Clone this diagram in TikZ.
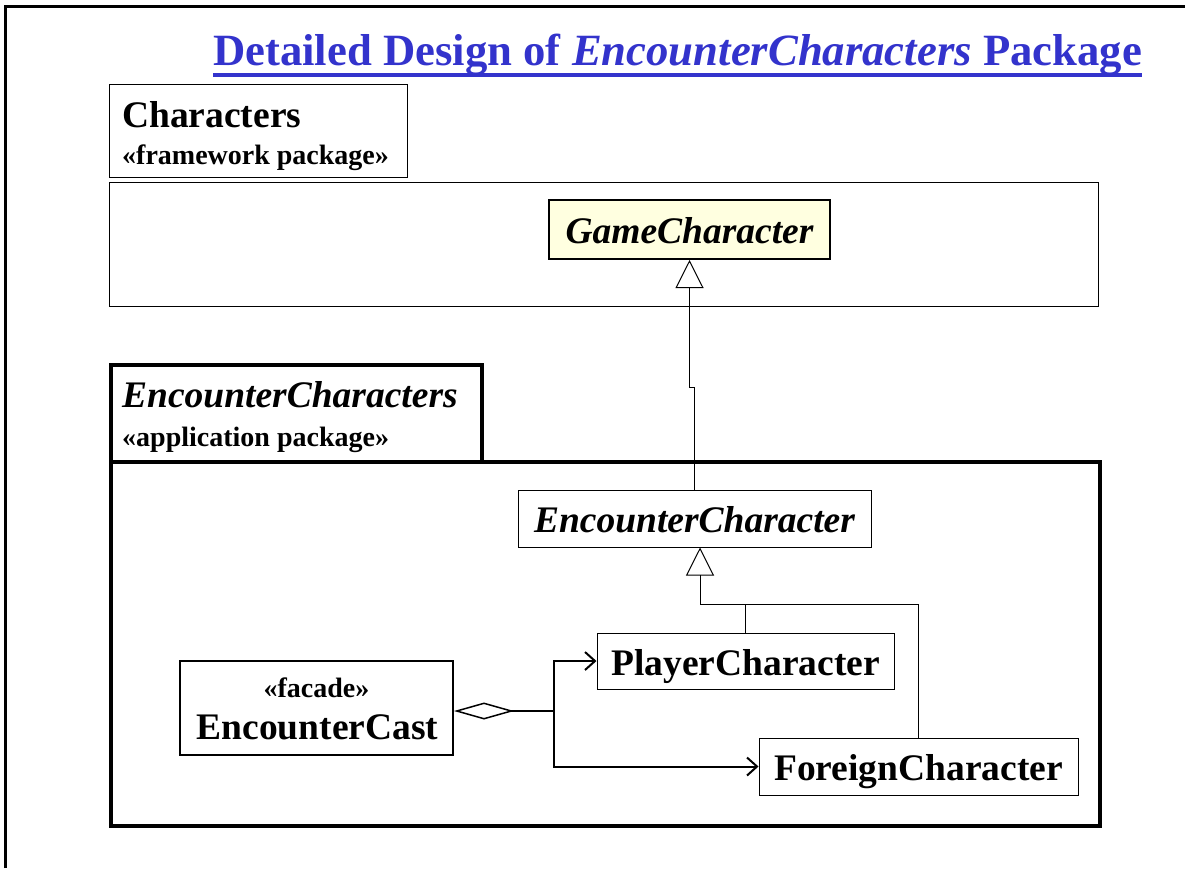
\documentclass[tikz,border=0pt]{standalone}
\usepackage{fontspec}
\setmainfont{Liberation Serif}
\usetikzlibrary{arrows.meta}
\definecolor{titleblue}{RGB}{51,51,204}
\definecolor{abstractfill}{RGB}{255,255,224}

\begin{document}
\begin{tikzpicture}[x=1pt,y=-1pt,
  pkgthin/.style={draw, line width=1.2pt, inner sep=0pt, anchor=north west},
  pkgthick/.style={draw, line width=4pt, inner sep=0pt, anchor=north west},
  classbox/.style={draw, line width=1pt, inner sep=0pt, text height=28pt, text depth=0pt,
    font=\fontsize{37.5}{40}\selectfont\bfseries},
  tabname/.style={anchor=base west, inner sep=0pt, font=\fontsize{37.5}{40}\selectfont\bfseries},
  stereo/.style={anchor=base west, inner sep=0pt, font=\fontsize{28}{30}\selectfont\bfseries},
  gen/.style={line width=1pt, -{Triangle[open, length=28pt, width=28pt, line width=1pt]}},
  assoc/.style={line width=2pt, -{Straight Barb[length=10pt, width=18pt, line width=2pt]}},
]
\useasboundingbox (0,0) rectangle (1185,868);

% slide frame (top and left edges)
\draw[line width=3pt] (5,868) -- (5,6) -- (1185,6);

% title
\node[anchor=base west, inner sep=0pt, text=titleblue,
      font=\fontsize{44.7}{48}\selectfont\bfseries] (title) at (213,65)
  {Detailed Design of \textit{EncounterCharacters} Package};
\draw[titleblue, line width=4pt]
  ([yshift=-10pt]title.base west) -- ([yshift=-10pt]title.base east);

% framework package
\node[pkgthin, minimum width=298pt, minimum height=93pt] (chartab) at (109,84) {};
\node[pkgthin, minimum width=989pt, minimum height=124pt] (charbody) at (109,182) {};
\node[tabname] (charname) at (122,127) {Characters};
\node[stereo] (charstereo) at (122,164) {«framework package»};

\node[classbox, fill=abstractfill, line width=2pt, minimum width=281pt, minimum height=59pt]
  (gc) at (689.5,229.5) {\itshape GameCharacter};

% application package
\node[pkgthick, minimum width=371pt, minimum height=97pt] (enctab) at (109,363) {};
\node[pkgthick, minimum width=989pt, minimum height=364pt] (encbody) at (109,460) {};
\node[tabname] (encname) at (122,407) {\itshape EncounterCharacters};
\node[stereo] (encstereo) at (122,446) {«application package»};

\node[classbox, minimum width=353pt, minimum height=57pt]
  (ec) at (694.5,518.5) {\itshape EncounterCharacter};
\node[classbox, minimum width=297pt, minimum height=56pt]
  (pc) at (745.5,661) {PlayerCharacter};
\node[classbox, minimum width=319pt, minimum height=57pt]
  (fc) at (918.5,766.5) {ForeignCharacter};
\node[draw, line width=2pt, inner sep=0pt, minimum width=273pt, minimum height=94pt]
  (cast) at (316.5,708) {};
\node[anchor=base, inner sep=0pt, font=\fontsize{28}{30}\selectfont\bfseries]
  (caststereo) at (316.5,697) {«facade»};
\node[anchor=base, inner sep=0pt, font=\fontsize{37.5}{40}\selectfont\bfseries]
  (castname) at (317.5,739) {EncounterCast};

% generalizations
\draw[gen] (ec.north) -- ++(0,-102) -| (gc.south);
\coordinate (hub) at (700,604);
\draw[line width=1pt] (pc.north) -- (pc.north |- hub);
\draw[gen] (fc.north) |- (hub) -- ([xshift=5.5pt]ec.south);

% aggregation of the cast members
\draw[line width=2pt, {Diamond[open, length=60pt, width=17pt, line width=1.5pt]}-]
  ([yshift=-3pt]cast.east) -- ++(100,0) coordinate (split);
\draw[assoc] (split) |- (pc.west);
\draw[assoc] (split) |- (fc.west);
\end{tikzpicture}
\end{document}
